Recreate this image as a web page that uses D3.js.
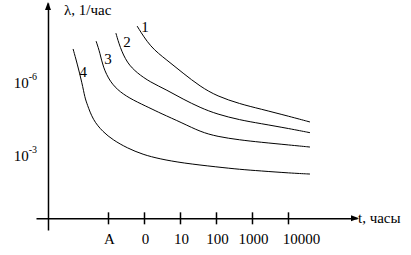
<!DOCTYPE html>
<html>
<head>
<meta charset="utf-8">
<script src="https://cdn.jsdelivr.net/npm/d3@7"></script>
<style>
  html, body { margin: 0; padding: 0; background: #fff; }
  svg { display: block; }
  svg text { font-family: "Liberation Serif", "Times New Roman", "DejaVu Serif", serif; }
</style>
</head>
<body>
<svg id="chart" width="411" height="255"></svg>
<script>
// подписи оси t (шкала условная: A, 0, 10 ... 10000 через равные шаги)
const tTicks = [0, 1, 2, 3, 4, 5];
const tLabels = ["A", "0", "10", "100", "1000", "10000"];

// подписи оси λ (показатель степени)
const lambdaTicks = [-6, -3];

// кривые λ(t): x - позиция по шкале t, y - показатель степени
const curve1 = [[0.81, -8.30], [1.17, -7.44], [1.64, -6.90], [2.08, -6.37], [2.56, -5.82],
  [3.03, -5.42], [3.67, -5.10], [4.22, -4.90], [5.06, -4.58], [5.61, -4.36]];
const curve2 = [[0.22, -8.01], [0.33, -7.44], [0.53, -6.78], [0.81, -6.37], [1.17, -6.00],
  [1.64, -5.67], [2.08, -5.30], [2.56, -4.95], [3.03, -4.68], [3.67, -4.44], [4.22, -4.30],
  [5.06, -4.08], [5.61, -3.92]];
const curve3 = [[-0.33, -7.68], [-0.22, -7.19], [-0.14, -6.62], [0.06, -6.00], [0.33, -5.59],
  [0.69, -5.26], [1.17, -4.93], [1.44, -4.73], [2.08, -4.31], [2.56, -3.96], [3.03, -3.76],
  [3.67, -3.62], [4.22, -3.53], [5.06, -3.41], [5.61, -3.33]];
const curve4 = [[-0.97, -7.36], [-0.86, -6.78], [-0.72, -5.96], [-0.64, -5.34], [-0.58, -5.10],
  [-0.42, -4.44], [-0.14, -3.95], [0.14, -3.62], [0.53, -3.29], [0.97, -3.02], [1.44, -2.84],
  [2.08, -2.67], [3.03, -2.51], [3.67, -2.41], [4.22, -2.35], [5.06, -2.26], [5.61, -2.22]];

const curveNames = ["1", "2", "3", "4"];
const curveLabelAt = [[1.03, -8.05], [0.53, -7.44], [0.0, -6.74], [-0.69, -6.21]];

const svg = d3.select("#chart");

const x = d3.scaleLinear().domain([-2, 6.917]).range([36, 357]);
const y = d3.scaleLinear().domain([-9.25, 0.08]).range([3, 230]);

const line = d3.line()
    .x(d => x(d[0]))
    .y(d => y(d[1]))
    .curve(d3.curveBasis);

const serif = "Liberation Serif, Times New Roman, serif";
const fs = 15;

// ось t
const xAxis = svg.append("g")
    .attr("transform", `translate(0,${y(-0.4)})`)
    .call(d3.axisBottom(x)
        .tickValues(tTicks)
        .tickFormat(i => tLabels[i])
        .tickSizeOuter(0));
xAxis.attr("font-family", serif).attr("font-size", fs);
xAxis.select(".domain").attr("stroke-width", 1.5);
xAxis.selectAll(".tick line").attr("y1", -6).attr("y2", 6).attr("stroke-width", 1.5);
xAxis.selectAll(".tick text")
    .attr("y", 26)
    .attr("dy", 0)
    .attr("dx", d => d === 5 ? 13 : 1)
    .attr("fill", "#000");

// ось λ
const yAxis = svg.append("g")
    .attr("transform", `translate(${x(-1.667)},0)`)
    .call(d3.axisLeft(y)
        .tickValues(lambdaTicks)
        .tickSize(0)
        .tickSizeOuter(0)
        .tickPadding(11)
        .tickFormat(() => ""));
yAxis.attr("font-family", serif).attr("font-size", fs);
yAxis.select(".domain").attr("stroke-width", 1.5);
yAxis.selectAll(".tick text")
    .attr("fill", "#000")
    .attr("dy", "0.35em")
    .each(function(d) {
        const t = d3.select(this);
        t.append("tspan").text("10");
        t.append("tspan").attr("font-size", 10).attr("dy", "-0.8em").text(String(d));
    });

// стрелки осей
const ax0 = x(-1.667), ay0 = y(-0.4);
svg.append("path")
    .attr("d", `M${ax0},2 L${ax0 - 3},10 L${ax0 + 3},10 Z`)
    .attr("fill", "#000");
svg.append("path")
    .attr("d", `M359,${ay0} L351,${ay0 - 3} L351,${ay0 + 3} Z`)
    .attr("fill", "#000");

svg.append("text")
    .attr("x", ax0 + 16).attr("y", 15)
    .attr("font-size", fs)
    .text("λ, 1/час");

svg.append("text")
    .attr("x", 358).attr("y", ay0 + 5)
    .attr("font-size", fs)
    .text("t, часы");

// кривые
const curves = [curve1, curve2, curve3, curve4];
svg.append("g")
    .selectAll("path")
    .data(curves)
    .join("path")
    .attr("d", line)
    .attr("fill", "none")
    .attr("stroke", "#000")
    .attr("stroke-width", 1);

svg.append("g")
    .selectAll("text")
    .data(curveNames)
    .join("text")
    .attr("x", (d, i) => x(curveLabelAt[i][0]))
    .attr("y", (d, i) => y(curveLabelAt[i][1]))
    .attr("text-anchor", "middle")
    .attr("font-size", fs)
    .text(d => d);
</script>
</body>
</html>
